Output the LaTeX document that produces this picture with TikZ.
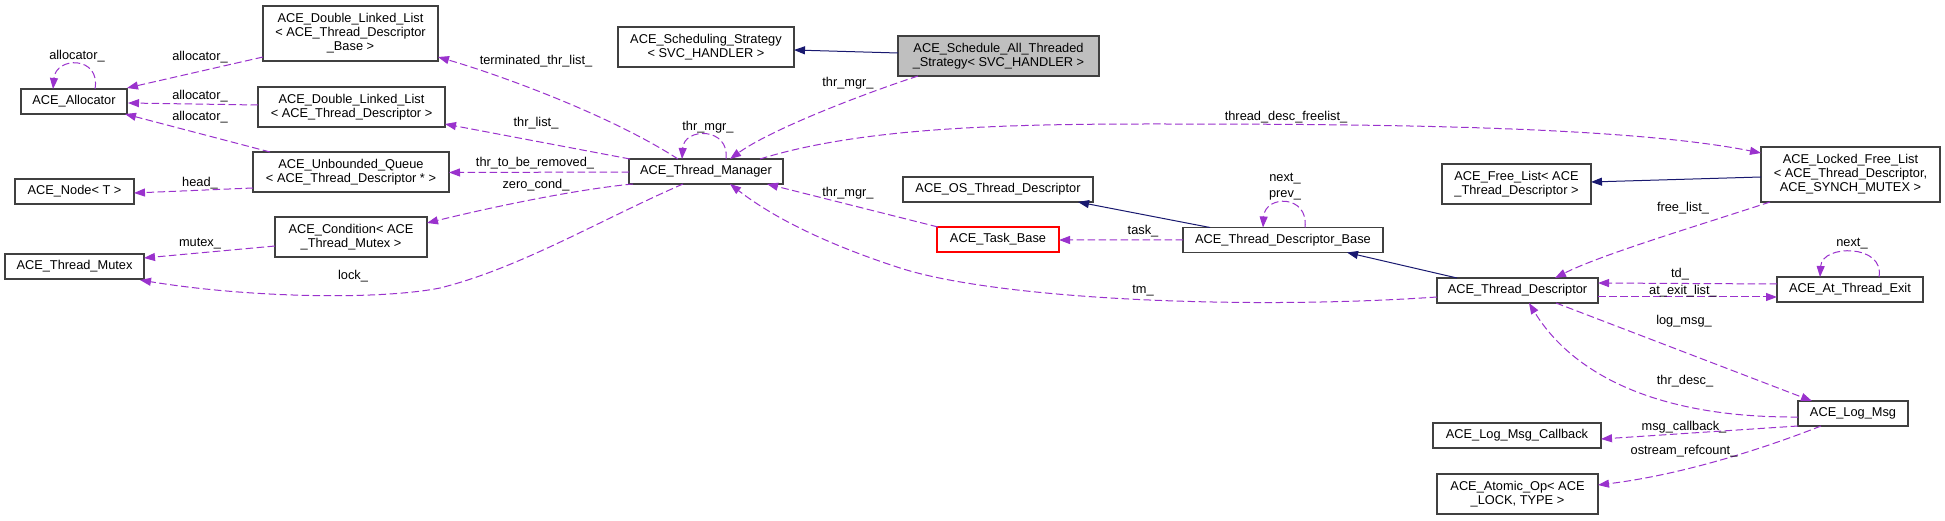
\documentclass[tikz,border=0pt]{standalone}
\usepackage{fontspec}
\setmainfont{Liberation Sans}
\usetikzlibrary{arrows.meta,calc}
\definecolor{edgep}{HTML}{9A32CD}
\definecolor{edgen}{HTML}{191970}
\definecolor{boxc}{HTML}{404040}
\definecolor{fillg}{HTML}{BFBFBF}
\begin{document}
\begin{tikzpicture}[x=1bp,y=-1bp,
  box/.style={draw=boxc, line width=1.1bp, inner sep=0pt, align=center, fill=white,
    font=\fontsize{12.8bp}{14bp}\selectfont},
  lbl/.style={inner sep=0pt, align=center, font=\fontsize{12.8bp}{14bp}\selectfont},
  dep/.style={draw=edgep, line width=1bp, dash pattern=on 7.5bp off 3.5bp,
    -{Triangle[length=11bp,width=8bp]}},
  inh/.style={draw=edgen, line width=1bp, -{Triangle[length=11bp,width=8bp]}},
]
\fill[white] (0,0) rectangle (1945,521);
\useasboundingbox (0,0) rectangle (1945,521);

% nodes
\node[box,minimum width=106bp,minimum height=25bp] (alloc) at (74,101.5) {ACE\_Allocator};
\node[box,minimum width=175bp,minimum height=55bp] (dllb) at (350.5,33.5) {ACE\_Double\_Linked\_List\\< ACE\_Thread\_Descriptor\\\_Base >};
\node[box,minimum width=187bp,minimum height=40bp] (dllt) at (351.5,107) {ACE\_Double\_Linked\_List\\< ACE\_Thread\_Descriptor >};
\node[box,minimum width=196bp,minimum height=40bp] (uq) at (351,172) {ACE\_Unbounded\_Queue\\< ACE\_Thread\_Descriptor * >};
\node[box,minimum width=119bp,minimum height=25bp] (nodeT) at (74.5,191.5) {ACE\_Node< T >};
\node[box,minimum width=152bp,minimum height=40bp] (cond) at (351,237) {ACE\_Condition< ACE\\\_Thread\_Mutex >};
\node[box,minimum width=139bp,minimum height=25bp] (mutex) at (74.5,266.5) {ACE\_Thread\_Mutex};
\node[box,minimum width=176bp,minimum height=40bp] (sched) at (706,47) {ACE\_Scheduling\_Strategy\\< SVC\_HANDLER >};
\node[box,fill=fillg,minimum width=201bp,minimum height=40bp] (sall) at (998.5,56) {ACE\_Schedule\_All\_Threaded\\\_Strategy< SVC\_HANDLER >};
\node[box,minimum width=154bp,minimum height=25bp] (tm) at (706,171.5) {ACE\_Thread\_Manager};
\node[box,minimum width=190bp,minimum height=25bp] (ostd) at (998,189.5) {ACE\_OS\_Thread\_Descriptor};
\node[box,draw=red,minimum width=122bp,minimum height=25bp] (task) at (998,239.5) {ACE\_Task\_Base};
\node[box,minimum width=200bp,minimum height=25bp] (tdb) at (1283,240) {ACE\_Thread\_Descriptor\_Base};
\node[box,minimum width=149bp,minimum height=40bp] (freel) at (1516.5,184) {ACE\_Free\_List< ACE\\\_Thread\_Descriptor >};
\node[box,minimum width=179bp,minimum height=55bp] (lfl) at (1850.5,174.5) {ACE\_Locked\_Free\_List\\< ACE\_Thread\_Descriptor,\\ACE\_SYNCH\_MUTEX >};
\node[box,minimum width=161bp,minimum height=25bp] (td) at (1517.5,290.5) {ACE\_Thread\_Descriptor};
\node[box,minimum width=146bp,minimum height=25bp] (ate) at (1850,289.5) {ACE\_At\_Thread\_Exit};
\node[box,minimum width=110bp,minimum height=25bp] (log) at (1853,413.5) {ACE\_Log\_Msg};
\node[box,minimum width=168bp,minimum height=25bp] (cb) at (1517,435.5) {ACE\_Log\_Msg\_Callback};
\node[box,minimum width=161bp,minimum height=40bp] (atom) at (1517.5,494) {ACE\_Atomic\_Op< ACE\\\_LOCK, TYPE >};

% dependency edges
\draw[dep] ($(alloc)+(21,-12.5)$) .. controls +(6,-33) and +(3,-33) .. ($(alloc)+(-21,-12.5)$);
\draw[dep] ($(dllb)+(-87.5,23.5)$) -- ($(alloc)+(53,-13.5)$);
\draw[dep] ($(dllt)+(-93.5,-2)$) -- ($(alloc)+(54,1.5)$);
\draw[dep] ($(uq)+(-81,-20)$) -- ($(alloc)+(51,12.5)$);
\draw[dep] ($(uq)+(-98,16)$) -- ($(nodeT)+(59.5,1.5)$);
\draw[dep] ($(tm)+(-28,-12.5)$) .. controls +(-68,-44) and +(62,18) .. ($(dllb)+(87.5,23.5)$);
\draw[dep] ($(tm)+(-76,-12.5)$) -- ($(dllt)+(93.5,17)$);
\draw[dep] ($(tm)+(-77,0.5)$) -- ($(uq)+(98,0.5)$);
\draw[dep] ($(tm)+(-73,12.5)$) .. controls +(-63,6) and +(53,-13) .. ($(cond)+(76,-14)$);
\draw[dep] ($(cond)+(-76,9)$) -- ($(mutex)+(69.5,-8.5)$);
\draw[dep] ($(tm)+(-23,12.5)$) .. controls (600,220) and (520,268) .. (440,288) .. controls (380,300) and (250,298) .. ($(mutex)+(65.5,13.5)$);
\draw[dep] ($(sall)+(-80.5,20)$) .. controls +(-58,19) and +(40,-29) .. ($(tm)+(24,-12.5)$);
\draw[dep] ($(tm)+(20,-12.5)$) .. controls +(4,-32) and +(2,-32) .. ($(tm)+(-24,-12.5)$);
\draw[dep] ($(tm)+(54,-12.5)$) .. controls (860,128) and (1000,124) .. (1150,124) .. controls (1350,124) and (1620,125) .. ($(lfl)+(-89.5,-21.5)$);
\draw[dep] ($(task)+(-60,-12.5)$) -- ($(tm)+(61,12.5)$);
\draw[dep] ($(td)+(-80.5,6.5)$) .. controls (1250,310) and (1000,300) .. (900,268) .. controls (820,242) and (770,215) .. ($(tm)+(24,12.5)$);
\draw[dep] ($(tdb)+(-100,0)$) -- ($(task)+(61,0.5)$);
\draw[dep] ($(tdb)+(22,-12.5)$) .. controls +(4,-33) and +(2,-33) .. ($(tdb)+(-20,-12.5)$);
\draw[dep] ($(lfl)+(-80.5,27.5)$) .. controls +(-70,23) and +(45,-23) .. ($(td)+(37.5,-12.5)$);
\draw[dep] ($(ate)+(29,-12.5)$) .. controls +(6,-33) and +(2,-33) .. ($(ate)+(-30,-12.5)$);
\draw[dep] ($(ate)+(-73,-5.5)$) -- ($(td)+(80.5,-7.5)$);
\draw[dep] ($(td)+(80.5,6.5)$) -- ($(ate)+(-73,7.5)$);
\draw[dep] ($(td)+(38.5,12.5)$) -- ($(log)+(-41,-12.5)$);
\draw[dep] ($(log)+(-55,3.5)$) .. controls +(-148,1) and +(41,67) .. ($(td)+(11.5,12.5)$);
\draw[dep] ($(log)+(-55,12.5)$) -- ($(cb)+(84,3.5)$);
\draw[dep] ($(log)+(-32,12.5)$) .. controls +(-61,24) and +(82,-10) .. ($(atom)+(80.5,-9)$);

% inheritance edges
\draw[inh] ($(sall)+(-100.5,-3)$) -- ($(sched)+(88,3)$);
\draw[inh] ($(tdb)+(-73,-12.5)$) -- ($(ostd)+(80,12.5)$);
\draw[inh] ($(td)+(-60.5,-12.5)$) -- ($(tdb)+(64,12.5)$);
\draw[inh] ($(lfl)+(-89.5,2.5)$) -- ($(freel)+(74.5,-2)$);

% labels
\node[lbl] (la1) at (77,56) {allocator\_};
\node[lbl] (la2) at (200,57) {allocator\_};
\node[lbl] (la3) at (200,96) {allocator\_};
\node[lbl] (la4) at (200,117) {allocator\_};
\node[lbl] (lhead) at (200,183) {head\_};
\node[lbl] (lmutex) at (200,244) {mutex\_};
\node[lbl] (llock) at (353,276) {lock\_};
\node[lbl] (lterm) at (536,61) {terminated\_thr\_list\_};
\node[lbl] (lthrl) at (536,123) {thr\_list\_};
\node[lbl] (lrem) at (535,163) {thr\_to\_be\_removed\_};
\node[lbl] (lzero) at (536,185) {zero\_cond\_};
\node[lbl] (lmgr1) at (848,83) {thr\_mgr\_};
\node[lbl] (lmgr2) at (708,127) {thr\_mgr\_};
\node[lbl] (lmgr3) at (848,193) {thr\_mgr\_};
\node[lbl] (lfree) at (1286,117) {thread\_desc\_freelist\_};
\node[lbl] (lnext1) at (1285,179) {next\_};
\node[lbl] (lprev) at (1285,195) {prev\_};
\node[lbl] (ltask) at (1143,231) {task\_};
\node[lbl] (ltm) at (1143,291) {tm\_};
\node[lbl] (lfl2) at (1683,208) {free\_list\_};
\node[lbl] (lnext2) at (1852,244) {next\_};
\node[lbl] (ltd) at (1680,274) {td\_};
\node[lbl] (lexit) at (1683,291) {at\_exit\_list\_};
\node[lbl] (llog) at (1684,321) {log\_msg\_};
\node[lbl] (ldesc) at (1685,381) {thr\_desc\_};
\node[lbl] (lcb) at (1684,427) {msg\_callback\_};
\node[lbl] (lost) at (1684,451) {ostream\_refcount\_};
\end{tikzpicture}
\end{document}
